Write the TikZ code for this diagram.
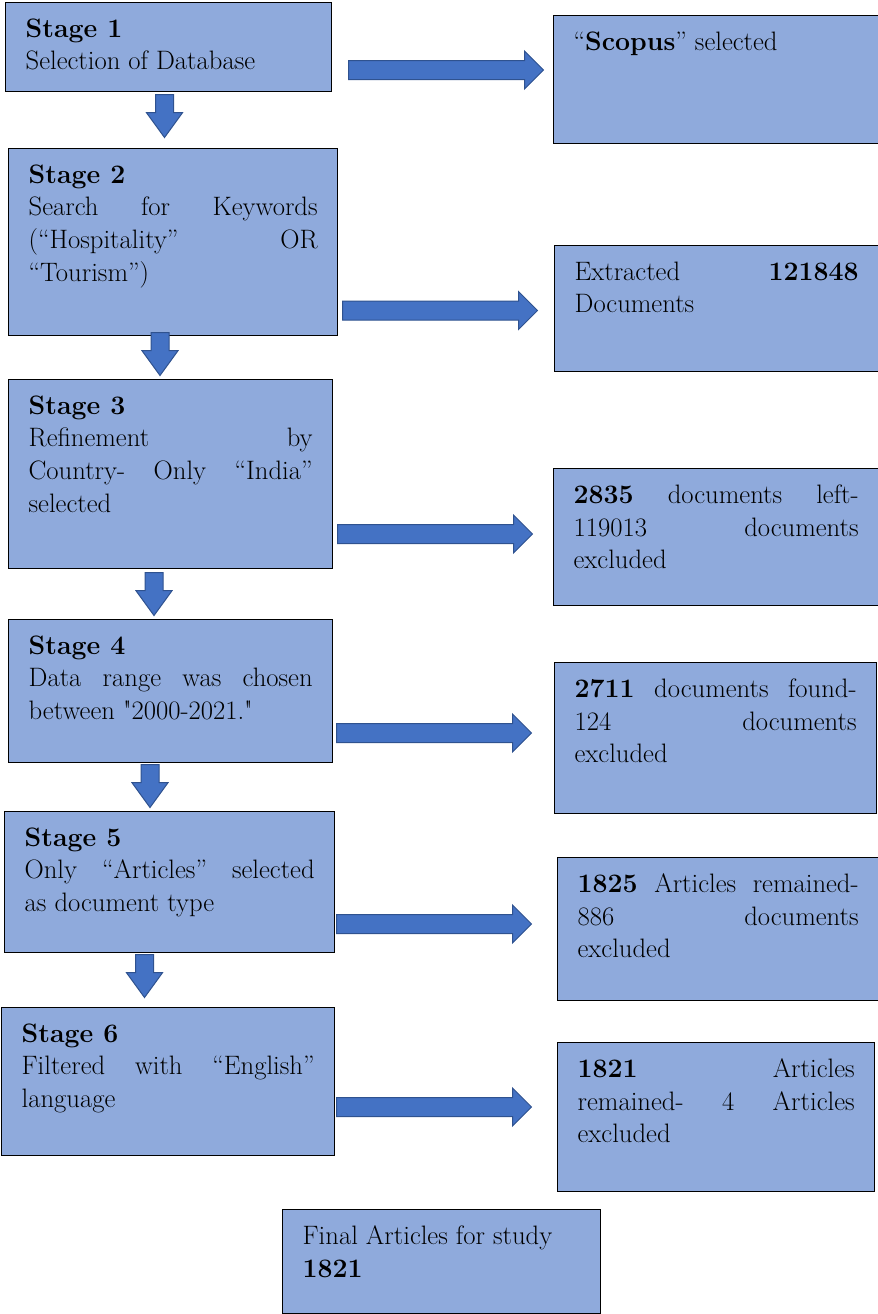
\documentclass[tikz,border=0pt]{standalone}
\usepackage{tikz}
\usetikzlibrary{shapes.arrows}

\definecolor{boxfill}{HTML}{8FAADC}
\definecolor{arrowfill}{HTML}{4472C4}
\definecolor{arrowedge}{HTML}{2F528F}

\newcommand{\boxtext}[3]{\parbox[c][#2pt][t]{#1pt}{\fontsize{20}{24.5}\selectfont #3}}
\newcommand{\jline}[1]{\makebox[\linewidth][s]{#1}}

\begin{document}
\begin{tikzpicture}[x=0.75pt, y=-0.75pt,
	stagebox/.style={draw=black, line width=1pt, fill=boxfill, anchor=north west, inner xsep=15pt, inner ysep=12pt},
	rarrow/.style={single arrow, draw=arrowedge, line width=0.75pt, fill=arrowfill, anchor=tail, inner xsep=0pt, inner ysep=6.75pt, minimum height=146.25pt, minimum width=27.75pt, single arrow head extend=7.125pt, single arrow tip angle=90},
	darrow/.style={rarrow, shape border rotate=270, inner xsep=6.375pt, inner ysep=0pt, minimum height=32.25pt, minimum width=26.25pt, single arrow head extend=6.75pt, single arrow tip angle=72}]
	\useasboundingbox (0,0) rectangle (878,1314);
	\node[stagebox] (s1) at (5,2) {\boxtext{214.5}{42.75}{\textbf{Stage 1}\\Selection of Database}};
	\node[stagebox] (s2) at (8,148) {\boxtext{216.75}{116.25}{\textbf{Stage 2}\\\jline{Search for Keywords}\\\jline{(“Hospitality” OR}\\“Tourism”)}};
	\node[stagebox] (s3) at (8,379) {\boxtext{213}{117.75}{\textbf{Stage 3}\\\jline{Refinement by}\\\jline{Country- Only “India”}\\selected}};
	\node[stagebox] (s4) at (8,619) {\boxtext{213}{83.25}{\textbf{Stage 4}\\\jline{Data range was chosen}\\between \textquotedbl 2000-2021.\textquotedbl}};
	\node[stagebox] (s5) at (4,811) {\boxtext{217.5}{81.75}{\textbf{Stage 5}\\\jline{Only “Articles” selected}\\as document type}};
	\node[stagebox] (s6) at (1,1007) {\boxtext{219.75}{87}{\textbf{Stage 6}\\\jline{Filtered with “English”}\\language}};
	\node[stagebox] (r1) at (553,15) {\boxtext{213.75}{72}{“\textbf{Scopus}” selected}};
	\node[stagebox] (r2) at (554,245) {\boxtext{213}{70.5}{\jline{Extracted \textbf{121848}}\\Documents}};
	\node[stagebox] (r3) at (553,468) {\boxtext{213.75}{78.75}{\jline{\textbf{2835} documents left-}\\\jline{119013 documents}\\excluded}};
	\node[stagebox] (r4) at (554,662) {\boxtext{211.5}{89.25}{\jline{\textbf{2711} documents found-}\\\jline{124 documents}\\excluded}};
	\node[stagebox] (r5) at (557,857) {\boxtext{210.75}{83.25}{\jline{\textbf{1825} Articles remained-}\\\jline{886 documents}\\excluded}};
	\node[stagebox] (r6) at (557,1042) {\boxtext{207.75}{87.75}{\jline{\textbf{1821} Articles}\\\jline{remained- 4 Articles}\\excluded}};
	\node[stagebox] (fin) at (282,1209) {\boxtext{208.5}{54}{Final Articles for study\\\textbf{1821}}};
	\foreach \n/\x/\y in {1/348/70,2/342/310.5,3/337/534,4/336/733,5/336/924,6/336/1107}
		\node[rarrow] (a\n) at (\x,\y) {};
	\foreach \n/\x/\y in {1/164.5/94,2/160/332,3/154/572,4/150/764,5/144.5/954}
		\node[darrow] (d\n) at (\x,\y) {};
\end{tikzpicture}
\end{document}
